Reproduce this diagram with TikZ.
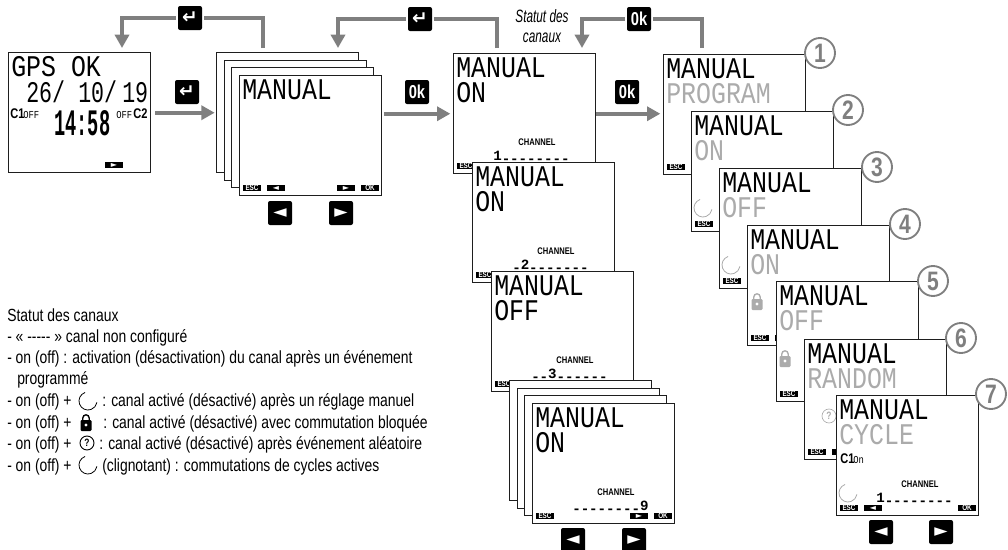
\documentclass[tikz,border=0pt]{standalone}
\usepackage{fontspec}
\usepackage{tikz}
\usetikzlibrary{arrows.meta, calc, positioning}
\setmainfont{Liberation Sans}
\newfontfamily\legendfont[FakeStretch=.79]{Liberation Sans}
\newfontfamily\notefont[FakeStretch=.66]{Liberation Sans}
\newfontfamily\lcdfont[FakeStretch=.83]{Liberation Mono}
\newfontfamily\datefont[FakeStretch=.72]{Liberation Mono}
\newfontfamily\clockfont[FakeStretch=.5]{Liberation Mono}
\newfontfamily\chanfont{Liberation Mono}
\newfontfamily\keyfont{DejaVu Sans}
\definecolor{flowgray}{HTML}{7F7F7F}
\definecolor{lcdgray}{HTML}{ABABAB}
\definecolor{framecol}{HTML}{1E1E1E}
\tikzset{
  screenbox/.style={draw=framecol, fill=white, line width=1.1pt, minimum width=106.5pt, minimum height=90pt, inner sep=0pt, anchor=north west},
  flow/.style={draw=flowgray, line width=3pt},
  keybox/.style={fill=black, rounded corners=1.5pt, minimum size=18pt, inner sep=0pt, outer sep=1.5pt, text=white},
  softtag/.style={fill=black, text=white, minimum width=13.5pt, minimum height=5.2pt, inner sep=0pt, font=\legendfont\fontsize{6}{6}\selectfont\bfseries},
  softmark/.style={softtag, font=\keyfont\fontsize{6}{5}\selectfont},
  lcdline/.style={anchor=base west, inner sep=0pt, font=\lcdfont\fontsize{22.5}{24}\selectfont},
  dateline/.style={lcdline, font=\datefont\fontsize{22.5}{24}\selectfont},
  chanlabel/.style={inner sep=0pt, font=\legendfont\fontsize{7.2}{8}\selectfont\bfseries},
  chanrow/.style={anchor=base west, inner sep=0pt, font=\chanfont\fontsize{10.6}{11}\selectfont\bfseries},
  numcircle/.style={circle, draw=flowgray, fill=white, line width=1.4pt, minimum size=22.5pt, inner sep=0pt, text=flowgray, font=\legendfont\fontsize{20}{20}\selectfont\bfseries},
  legendline/.style={anchor=base west, inner sep=0pt, font=\legendfont\fontsize{13.2}{14}\selectfont},
  notetext/.style={inner sep=0pt, font=\notefont\itshape\fontsize{13.4}{14}\selectfont},
  spinmark/.style={line width=.6pt, line cap=round},
  presskey/.style={keybox, font=\keyfont\fontsize{13}{13}\selectfont}
}
\newcommand{\dashrow}[1]{\raisebox{-.28em}{#1}}
\newcommand{\leftkey}{{\keyfont\symbol{"25C4}}}
\newcommand{\rightkey}{{\keyfont\symbol{"25BA}}}
\newcommand{\returnkey}{{\keyfont\bfseries\fontsize{14}{14}\selectfont\symbol{"21B5}}}
\newcommand{\okkey}{{\legendfont\bfseries\fontsize{14}{14}\selectfont 0k}}
% screen: name, x, y, first line, second line, colour of second line
\newcommand{\drawscreen}[6]{
  \begin{scope}[shift={(#2,#3)}]
    \node[screenbox] (#1) at (0,0) {};
    \node[lcdline] (#1-title) at (3,24) {#4};
    \node[lcdline, text=#6] (#1-state) at (3,49) {#5};
  \end{scope}
}
\newcommand{\softkeys}[3]{
  \begin{scope}[shift={(#2,#3)}]
    \node[softtag] (#1-esc) at (13,113) {ESC};
    \node[softmark] (#1-left) at (37,113) {\leftkey};
  \end{scope}
}
\newcommand{\channel}[4]{
  \begin{scope}[shift={(#2,#3)}]
    \node[chanlabel] (#1-chan) at (84,89) {CHANNEL};
    \node[chanrow] (#1-row) at (40,107) {#4};
  \end{scope}
}
\newcommand{\drawspin}[3]{\draw[spinmark, #3] (#1,#2) ++(110:6.75pt) arc[start angle=110, end angle=350, radius=6.75pt];}
\newcommand{\drawlock}[3]{
  \fill[#3, rounded corners=.8pt] (#1-5.5,#2-3) rectangle (#1+5.5,#2+8);
  \draw[#3, line width=1pt] (#1-3.2,#2-3) -- (#1-3.2,#2-5) arc[start angle=180, end angle=0, radius=2.4pt] -- (#1+3.2,#2-3);
  \fill[white] (#1,#2+2) circle (1.2pt);
}
\begin{document}
\begin{tikzpicture}[x=.75pt, y=-.75pt, >={Triangle[length=10pt,width=10.5pt]}]
\useasboundingbox (0,0) rectangle (1008,550);

% GPS screen
\drawscreen{gps}{8}{52}{GPS OK}{}{black}
\node[dateline] (gps-d1) at (26,102) {26/};
\node[dateline] (gps-d2) at (78,102) {10/};
\node[dateline] (gps-d3) at (122,102) {19};
\node[anchor=base west, inner sep=0pt, font=\legendfont\fontsize{10.5}{11}\selectfont\bfseries] (gps-c1) at (10,118) {C1};
\node[anchor=base west, inner sep=0pt, font=\lcdfont\fontsize{8}{8}\selectfont] (gps-off1) at (23,118) {OFF};
\node[anchor=base west, inner sep=0pt, font=\clockfont\bfseries\fontsize{28}{28}\selectfont] (gps-clock) at (54,135) {14:58};
\node[anchor=base west, inner sep=0pt, font=\lcdfont\fontsize{8}{8}\selectfont] (gps-off2) at (116,118) {OFF};
\node[anchor=base west, inner sep=0pt, font=\legendfont\fontsize{10.5}{11}\selectfont\bfseries] (gps-c2) at (133,118) {C2};
\node[softmark] (gps-right) at (114,165) {\rightkey};

% First stack
\node[screenbox] (stkA1) at (216,52) {};
\node[screenbox] (stkA2) at (224,60) {};
\node[screenbox] (stkA3) at (231,67) {};
\drawscreen{stkA4}{239}{75}{MANUAL}{}{black}
\softkeys{stkA4}{239}{75}
\node[softmark] (stkA4-right) at (346,188) {\rightkey};
\node[softtag] (stkA4-ok) at (370,188) {OK};
\node[presskey] (keyAl) at (280,213) {\leftkey};
\node[presskey] (keyAr) at (341,213) {\rightkey};

% Middle column
\drawscreen{midA}{453}{53}{MANUAL}{ON}{black}
\channel{midA}{453}{53}{1\dashrow{--------}}
\node[softtag] (midA-esc) at (466,166) {ESC};
\drawscreen{midB}{472}{162}{MANUAL}{ON}{black}
\channel{midB}{472}{162}{\dashrow{-}2\dashrow{-------}}
\node[softtag] (midB-esc) at (485,275) {ESC};
\drawscreen{midC}{491}{271}{MANUAL}{OFF}{black}
\channel{midC}{491}{271}{\dashrow{--}3\dashrow{------}}
\node[softtag] (midC-esc) at (504,384) {ESC};
\node[screenbox] (stkB1) at (509,380) {};
\node[screenbox] (stkB2) at (517,388) {};
\node[screenbox] (stkB3) at (524,395) {};
\drawscreen{stkB4}{532}{403}{MANUAL}{ON}{black}
\channel{stkB4}{532}{403}{\dashrow{--------}9}
\node[softtag] (stkB4-esc) at (545,516) {ESC};
\node[softmark] (stkB4-right) at (639,516) {\rightkey};
\node[softtag] (stkB4-ok) at (663,516) {OK};
\node[presskey] (keyBl) at (573,540) {\leftkey};
\node[presskey] (keyBr) at (634,540) {\rightkey};

% Cascade 1 to 7
\drawscreen{casA}{663}{54}{MANUAL}{PROGRAM}{lcdgray}
\node[softtag] (casA-esc) at (676,167) {ESC};
\node[numcircle] (numA) at (820,53) {1};
\drawscreen{casB}{691}{111}{MANUAL}{ON}{lcdgray}
\softkeys{casB}{691}{111}
\drawspin{703}{208}{lcdgray}
\node[numcircle] (numB) at (848,110) {2};
\drawscreen{casC}{719}{168}{MANUAL}{OFF}{lcdgray}
\softkeys{casC}{719}{168}
\drawspin{731}{265}{lcdgray}
\node[numcircle] (numC) at (877,167) {3};
\drawscreen{casD}{747}{225}{MANUAL}{ON}{lcdgray}
\softkeys{casD}{747}{225}
\drawlock{757}{302}{lcdgray}
\node[numcircle] (numD) at (905,224) {4};
\drawscreen{casE}{776}{281}{MANUAL}{OFF}{lcdgray}
\softkeys{casE}{776}{281}
\drawlock{785}{359}{lcdgray}
\node[numcircle] (numE) at (933,281) {5};
\drawscreen{casF}{804}{339}{MANUAL}{RANDOM}{lcdgray}
\softkeys{casF}{804}{339}
\node[circle, draw=lcdgray, text=lcdgray, line width=.5pt, minimum size=10.5pt, inner sep=0pt, font=\legendfont\fontsize{8}{8}\selectfont\bfseries] (casF-ask) at (829,416) {?};
\node[numcircle] (numF) at (961,338) {6};
\drawscreen{casG}{836}{395}{MANUAL}{CYCLE}{lcdgray}
\channel{casG}{836}{395}{1\dashrow{--------}}
\softkeys{casG}{836}{395}
\node[softtag] (casG-ok) at (967,508) {OK};
\node[anchor=base west, inner sep=0pt, font=\legendfont\fontsize{10.5}{11}\selectfont\bfseries] (casG-c1) at (840,463) {C1};
\node[anchor=base west, inner sep=0pt, font=\lcdfont\fontsize{8}{8}\selectfont] (casG-on) at (853,463) {On};
\drawspin{848}{493}{lcdgray}
\node[numcircle] (numG) at (991,394) {7};
\node[presskey] (keyCl) at (881,532) {\leftkey};
\node[presskey] (keyCr) at (941,532) {\rightkey};

% Forward arrows
\node[keybox] (fwdA) at (187,92) {\returnkey};
\node[keybox] (fwdB) at (417,92) {\okkey};
\node[keybox] (fwdC) at (627,92) {\okkey};
\draw[flow, ->, shorten <=3pt, shorten >=1pt] (gps.east) -- (stkA1.west);
\draw[flow, ->, shorten <=1pt, shorten >=2pt] (midA.west -| stkA4.east) -- (midA.west);
\draw[flow, ->, shorten >=2pt] (midA.east) -- (casA.west |- midA.east);

% Return arrows
\node[keybox] (backA) at (190,18) {\returnkey};
\node[keybox] (backB) at (420,19) {\returnkey};
\node[keybox] (backC) at (639,19) {\okkey};
\coordinate (outA) at (263,48);
\coordinate (inA) at (122,48);
\coordinate (outB) at (497,48);
\coordinate (inB) at (338,48);
\coordinate (outC) at (702,48);
\coordinate (inC) at (582,48);
\draw[flow] (outA) |- (backA);
\draw[flow, ->] (backA) -| (inA);
\draw[flow] (outB) |- (backB);
\draw[flow, ->] (backB) -| (inB);
\draw[flow] (outC) |- (backC);
\draw[flow, ->] (backC) -| (inC);

\node[notetext] (stateA) at (542,16) {Statut des};
\node[notetext] (stateB) at (542,38) {canaux};

% Legend
\node[legendline] (legA) at (7,321) {Statut des canaux};
\node[legendline] (legB) at (7,342) {- « -{}-{}-{}-{}- » canal non configuré};
\node[legendline] (legC) at (7,363) {- on (off) : activation (désactivation) du canal après un événement};
\node[legendline] (legD) at (17,384) {programmé};
\node[legendline] (legE) at (7,406) {- on (off) +};
\drawspin{88}{401}{black}
\node[legendline] (legEb) at (102,406) {: canal activé (désactivé) après un réglage manuel};
\node[legendline] (legF) at (7,428) {- on (off) +};
\drawlock{86}{423}{black}
\node[legendline] (legFb) at (103,428) {: canal activé (désactivé) avec commutation bloquée};
\node[legendline] (legG) at (7,449) {- on (off) +};
\node[circle, draw=black, line width=.7pt, minimum size=10.5pt, inner sep=0pt, font=\legendfont\fontsize{8}{8}\selectfont\bfseries] (legGq) at (87,443) {?};
\node[legendline] (legGb) at (99,449) {: canal activé (désactivé) après événement aléatoire};
\node[legendline] (legH) at (7,471) {- on (off) +};
\drawspin{88}{465}{black}
\node[legendline] (legHb) at (102,471) {(clignotant) : commutations de cycles actives};
\end{tikzpicture}
\end{document}
